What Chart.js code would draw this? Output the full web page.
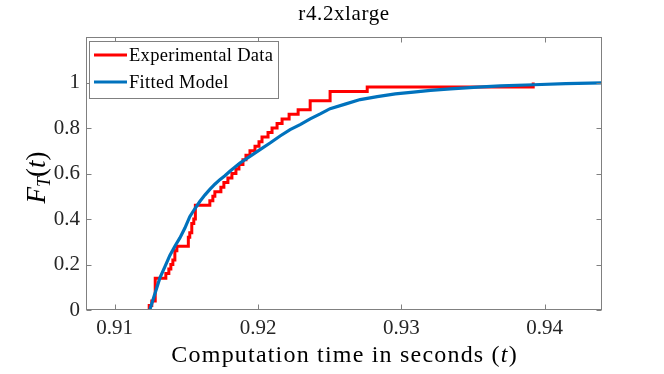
<!DOCTYPE html>
<html><head><meta charset="utf-8">
<script src="https://cdn.jsdelivr.net/npm/chart.js@4/dist/chart.umd.min.js"></script>
<style>html,body{margin:0;padding:0;background:#fff}#wrap{width:664px;height:374px;position:relative}</style>
</head><body><div id="wrap"><canvas id="c" width="664" height="374"></canvas></div>
<script>
const chartTitle = "r4.2xlarge";
const xLabelText = "Computation time in seconds";
const legendLabels = ["Experimental Data", "Fitted Model"];
const xTickValues = [0.91, 0.92, 0.93, 0.94];
const yTickValues = [0, 0.2, 0.4, 0.6, 0.8, 1];

const expTime = [0.91238,0.91241,0.91259,0.91283,0.91357,0.91378,0.91392,0.91406,0.91420,0.91434,0.91514,0.91524,0.91538,0.91552,0.91563,0.91664,0.91685,0.91699,0.91741,0.91762,0.91790,0.91818,0.91846,0.91867,0.91895,0.91916,0.91944,0.91979,0.92007,0.92028,0.92070,0.92098,0.92133,0.92168,0.92217,0.92280,0.92364,0.92503,0.92762,0.93920];
const expF    = [0,0.02,0.04,0.14,0.16,0.18,0.20,0.22,0.26,0.28,0.32,0.34,0.38,0.40,0.46,0.48,0.50,0.52,0.54,0.56,0.58,0.60,0.62,0.64,0.66,0.68,0.70,0.72,0.74,0.76,0.78,0.80,0.82,0.84,0.86,0.88,0.92,0.96,0.98,1.00];

const fitTime = [0.91245,0.91280,0.91315,0.91350,0.91385,0.91420,0.91455,0.91490,0.91524,0.91559,0.91594,0.91629,0.91664,0.91699,0.91734,0.91769,0.91804,0.91874,0.91944,0.92014,0.92084,0.92154,0.92224,0.92294,0.92364,0.92434,0.92503,0.92608,0.92713,0.92832,0.92958,0.93084,0.93203,0.93343,0.93531,0.93692,0.93923,0.94147,0.94400];
const fitF    = [0,0.07,0.14,0.19,0.24,0.28,0.317,0.36,0.41,0.445,0.477,0.505,0.53,0.553,0.573,0.59,0.61,0.646,0.675,0.705,0.734,0.765,0.793,0.815,0.84,0.862,0.885,0.905,0.925,0.938,0.950,0.958,0.965,0.972,0.980,0.985,0.990,0.995,0.998];

const RED = '#ff0000', BLUE = '#0072bd';
const AX = '#808080';
const SERIF = '"Liberation Serif", "Times New Roman", serif';

function drawPieces(ctx, pieces, x, y, align) {
  let total = 0;
  pieces.forEach(p => { ctx.font = p.font; ctx.letterSpacing = (p.ls||0)+'px'; p.w = ctx.measureText(p.t).width; total += p.w; });
  let cx = align === 'center' ? x - total/2 : x;
  ctx.textAlign = 'left';
  pieces.forEach(p => { ctx.font = p.font; ctx.letterSpacing = (p.ls||0)+'px'; ctx.fillText(p.t, cx, y + (p.dy||0)); cx += p.w; });
  ctx.letterSpacing = '0px';
}

const deco = {
  id: 'deco',
  afterDatasetsDraw(chart) {
    const {ctx, chartArea: a, scales: {x, y}} = chart;
    ctx.save();
    ctx.strokeStyle = AX; ctx.lineWidth = 1;
    const L = Math.round(a.left)+0.5, R = Math.round(a.right)-0.5, T = Math.round(a.top)+0.5, B = Math.round(a.bottom)-0.5;
    ctx.strokeRect(L, T, R-L, B-T);
    const tl = 5;
    ctx.beginPath();
    xTickValues.forEach(v => { const px = Math.round(x.getPixelForValue(v))+0.5; ctx.moveTo(px, B); ctx.lineTo(px, B-tl); ctx.moveTo(px, T); ctx.lineTo(px, T+tl); });
    yTickValues.forEach(v => { const py = Math.round(y.getPixelForValue(v))+0.5; ctx.moveTo(L, py); ctx.lineTo(L+tl, py); ctx.moveTo(R, py); ctx.lineTo(R-tl, py); });
    ctx.stroke();

    // legend
    const lx = 89, ly = 41, lw = 189, lh = 57;
    ctx.fillStyle = '#fff'; ctx.fillRect(lx, ly, lw, lh);
    ctx.strokeStyle = AX; ctx.strokeRect(lx+0.5, ly+0.5, lw, lh);
    const rows = [ {c: RED, t: legendLabels[0], yy: ly+14}, {c: BLUE, t: legendLabels[1], yy: ly+41} ];
    rows.forEach(r => {
      ctx.strokeStyle = r.c; ctx.lineWidth = 3;
      ctx.beginPath(); ctx.moveTo(lx+5, r.yy); ctx.lineTo(lx+38, r.yy); ctx.stroke();
      ctx.fillStyle = '#000'; ctx.textBaseline = 'middle';
      drawPieces(ctx, [{t: r.t, font: '18.5px '+SERIF, ls: 0.3}], lx+40, r.yy+1, 'left');
    });
    ctx.restore();
  },
  afterDraw(chart) {
    const {ctx, chartArea: a} = chart;
    const cx = (a.left + a.right)/2;
    ctx.save();
    ctx.fillStyle = '#000'; ctx.textBaseline = 'alphabetic';
    drawPieces(ctx, [{t: chartTitle, font: '21px '+SERIF, ls: 0.6}], cx, 20, 'center');
    drawPieces(ctx, [
      {t: xLabelText + ' (', font: '24px '+SERIF, ls: 1.2},
      {t: 't', font: 'italic 24px '+SERIF, ls: 1.2},
      {t: ')', font: '24px '+SERIF, ls: 0}
    ], cx, 362, 'center');
    ctx.translate(36, (a.top + a.bottom)/2 + 4);
    ctx.rotate(-Math.PI/2);
    drawPieces(ctx, [
      {t: 'F', font: 'italic 27px '+SERIF},
      {t: 'T', font: 'italic 18px '+SERIF, dy: 5},
      {t: '(', font: '27px '+SERIF},
      {t: 't', font: 'italic 27px '+SERIF},
      {t: ')', font: '27px '+SERIF}
    ], 0, 9, 'center');
    ctx.restore();
  }
};

new Chart(document.getElementById('c'), {
  type: 'line',
  data: {
    datasets: [
      { label: legendLabels[0], data: expTime.map((t,i)=>({x:t, y:expF[i]})), borderColor: RED, borderWidth: 3, pointRadius: 0, stepped: true, fill: false, order: 2 },
      { label: legendLabels[1], data: fitTime.map((t,i)=>({x:t, y:fitF[i]})), borderColor: BLUE, borderWidth: 3.2, pointRadius: 0, tension: 0, fill: false, order: 1 }
    ]
  },
  options: {
    responsive: false, animation: false, devicePixelRatio: 1,
    layout: { padding: { top: 37, right: 62, left: 0, bottom: 0 } },
    plugins: { legend: { display: false }, title: { display: false }, tooltip: { enabled: false } },
    scales: {
      x: {
        type: 'linear', min: 0.908, max: 0.944,
        afterBuildTicks: s => { s.ticks = xTickValues.map(v => ({value: v})); },
        afterFit: s => { s.height = 64; },
        grid: { display: false, drawTicks: false }, border: { display: false },
        ticks: { padding: 6, color: '#262626', font: { family: SERIF, size: 21 }, callback: v => v.toFixed(2), maxRotation: 0, autoSkip: false }
      },
      y: {
        type: 'linear', min: 0, max: 1.2,
        afterBuildTicks: s => { s.ticks = yTickValues.map(v => ({value: v})); },
        afterFit: s => { s.width = 86; },
        grid: { display: false, drawTicks: false }, border: { display: false },
        ticks: { padding: 6, color: '#262626', font: { family: SERIF, size: 21 }, callback: v => (v === 0 || v === 1) ? String(v) : v.toFixed(1), autoSkip: false }
      }
    }
  },
  plugins: [deco]
});
</script>
</body></html>
